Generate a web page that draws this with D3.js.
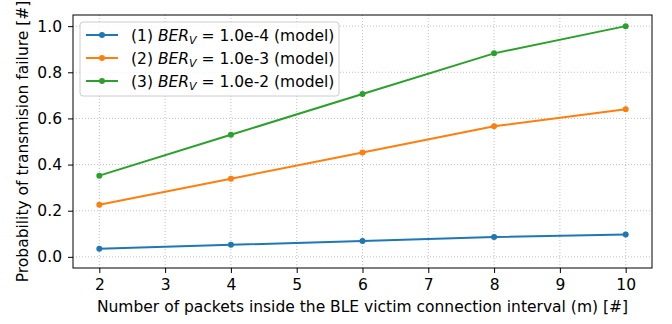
<!DOCTYPE html>
<meta charset="utf-8">
<style>
body { margin: 0; background: #fff; }
text { font-family: "DejaVu Sans", sans-serif; fill: #000; }
.grid line { stroke: #b0b0b0; stroke-width: 0.8; stroke-dasharray: 1,2; }
</style>
<svg width="672" height="324"></svg>
<script src="https://d3js.org/d3.v7.min.js"></script>
<script>

var packets = [2, 4, 6, 8, 10];
var ber4 = [0.035, 0.052, 0.069, 0.086, 0.097];
var ber3 = [0.226, 0.339, 0.452, 0.566, 0.640];
var ber2 = [0.352, 0.529, 0.706, 0.882, 1.000];
var xTicks = [2, 3, 4, 5, 6, 7, 8, 9, 10];
var yTicks = [0.0, 0.2, 0.4, 0.6, 0.8, 1.0];
var series = [
  {id: "(1)", exp: "1.0e-4", values: ber4, color: "#1f77b4"},
  {id: "(2)", exp: "1.0e-3", values: ber3, color: "#ff7f0e"},
  {id: "(3)", exp: "1.0e-2", values: ber2, color: "#2ca02c"}
];

var svg = d3.select("svg"),
    pl = 73, pr = 652, pt = 15, pb = 268,
    fs = "15.5px";

var x = d3.scaleLinear().domain([1.6, 10.4]).range([pl, pr]);
var y = d3.scaleLinear().domain([-0.0483, 1.0483]).range([pb, pt]);

// grid
var grid = svg.append("g").attr("class", "grid");
grid.selectAll(".gx").data(xTicks).enter().append("line")
    .attr("x1", function(d) { return x(d); }).attr("x2", function(d) { return x(d); })
    .attr("y1", pt).attr("y2", pb);
grid.selectAll(".gy").data(yTicks).enter().append("line")
    .attr("x1", pl).attr("x2", pr)
    .attr("y1", function(d) { return y(d); }).attr("y2", function(d) { return y(d); });

// axes
var xAxis = svg.append("g").attr("transform", "translate(0," + pb + ")")
    .call(d3.axisBottom(x).tickValues(xTicks).tickSize(5).tickPadding(6).tickFormat(d3.format("d")));
var yAxis = svg.append("g").attr("transform", "translate(" + pl + ",0)")
    .call(d3.axisLeft(y).tickValues(yTicks).tickSize(5).tickPadding(6).tickFormat(d3.format(".1f")));
[xAxis, yAxis].forEach(function(a) {
  a.select(".domain").remove();
  a.selectAll("text").style("font-size", fs).style("font-family", "DejaVu Sans").attr("fill", "#000");
  a.selectAll("line").attr("stroke", "#000").attr("stroke-width", 1);
});

svg.append("rect").attr("x", pl).attr("y", pt)
    .attr("width", pr - pl).attr("height", pb - pt)
    .attr("fill", "none").attr("stroke", "#000").attr("stroke-width", 1);

// lines
var line = d3.line()
    .x(function(d, i) { return x(packets[i]); })
    .y(function(d) { return y(d); });

series.forEach(function(s) {
  svg.append("path").datum(s.values)
      .attr("d", line).attr("fill", "none")
      .attr("stroke", s.color).attr("stroke-width", 2);
  svg.selectAll(null).data(s.values).enter().append("circle")
      .attr("cx", function(d, i) { return x(packets[i]); })
      .attr("cy", function(d) { return y(d); })
      .attr("r", 3).attr("fill", s.color);
});

// axis labels
svg.append("text").attr("x", (pl + pr) / 2).attr("y", 312)
    .attr("text-anchor", "middle").style("font-size", fs)
    .text("Number of packets inside the BLE victim connection interval (m) [#]");
svg.append("text").attr("transform", "translate(28," + ((pt + pb) / 2) + ") rotate(-90)")
    .attr("text-anchor", "middle").style("font-size", fs)
    .text("Probability of transmision failure [#]");

// legend
var lg = svg.append("g");
lg.append("rect").attr("x", 80).attr("y", 22).attr("width", 259).attr("height", 74)
    .attr("rx", 3).attr("fill", "#fff").attr("fill-opacity", 0.8)
    .attr("stroke", "#cccccc").attr("stroke-width", 1);
series.forEach(function(s, i) {
  var yy = 35 + i * 23;
  lg.append("line").attr("x1", 86).attr("x2", 118).attr("y1", yy).attr("y2", yy)
      .attr("stroke", s.color).attr("stroke-width", 2);
  lg.append("circle").attr("cx", 102).attr("cy", yy).attr("r", 3).attr("fill", s.color);
  var t = lg.append("text").attr("x", 131).attr("y", yy + 5.5).style("font-size", fs);
  t.append("tspan").text(s.id + " ");
  t.append("tspan").style("font-style", "italic").text("BER");
  t.append("tspan").style("font-style", "italic").style("font-size", "11px").attr("dy", 3).text("V");
  t.append("tspan").attr("dy", -3).text(" = " + s.exp + " (model)");
});

</script>
